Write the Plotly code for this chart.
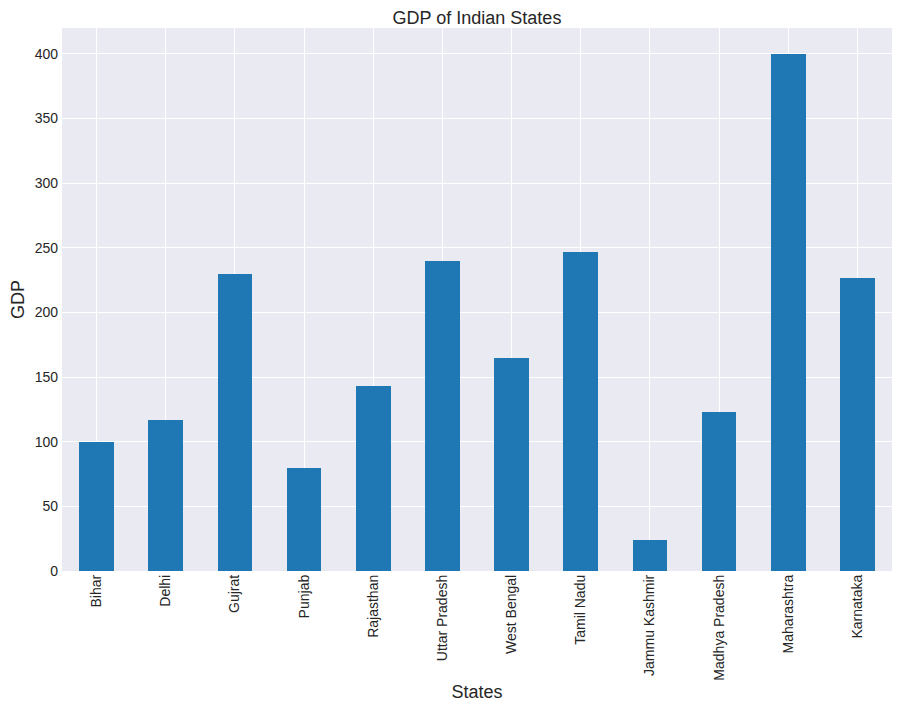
import plotly.graph_objects as go

states = ["Bihar", "Delhi", "Gujrat", "Punjab", "Rajasthan", "Uttar Pradesh",
          "West Bengal", "Tamil Nadu", "Jammu Kashmir", "Madhya Pradesh",
          "Maharashtra", "Karnataka"]
gdp = [100, 117, 230, 80, 143, 240, 165, 247, 24, 123, 400, 227]
y_ticks = [0, 50, 100, 150, 200, 250, 300, 350, 400]

fig = go.Figure(go.Bar(x=states, y=gdp, width=0.5,
                       marker=dict(color="#1f77b4", line=dict(width=0))))

font_family = "Liberation Sans, Arial, sans-serif"
W, H = 892, 701  # page has an 8px body margin in the 900x709 window
fig.update_layout(
    width=W, height=H,
    margin=dict(l=46, r=8, t=20, b=138),
    paper_bgcolor="white",
    plot_bgcolor="#EAEAF2",
    font=dict(family=font_family, color="#262626"),
    title=dict(text="GDP of Indian States", x=0.5, xref="paper", xanchor="center",
               y=1 - 9.5 / H, yanchor="middle", font=dict(size=18, color="#262626")),
    showlegend=False,
    bargap=0,
)
fig.update_xaxes(
    title=dict(text="States", font=dict(size=18), standoff=5),
    tickangle=-90, tickfont=dict(size=14),
    showgrid=True, gridcolor="white", gridwidth=1,
    range=[-0.5, 11.5], showline=False, zeroline=False, ticks="",
)
fig.update_yaxes(
    title=dict(text="GDP", font=dict(size=18), standoff=6),
    tickvals=y_ticks, tickfont=dict(size=14), ticklabelstandoff=3,
    range=[0, 420], showgrid=True, gridcolor="white", gridwidth=1,
    zeroline=False, showline=False, ticks="",
)
fig.write_html("out.html")
